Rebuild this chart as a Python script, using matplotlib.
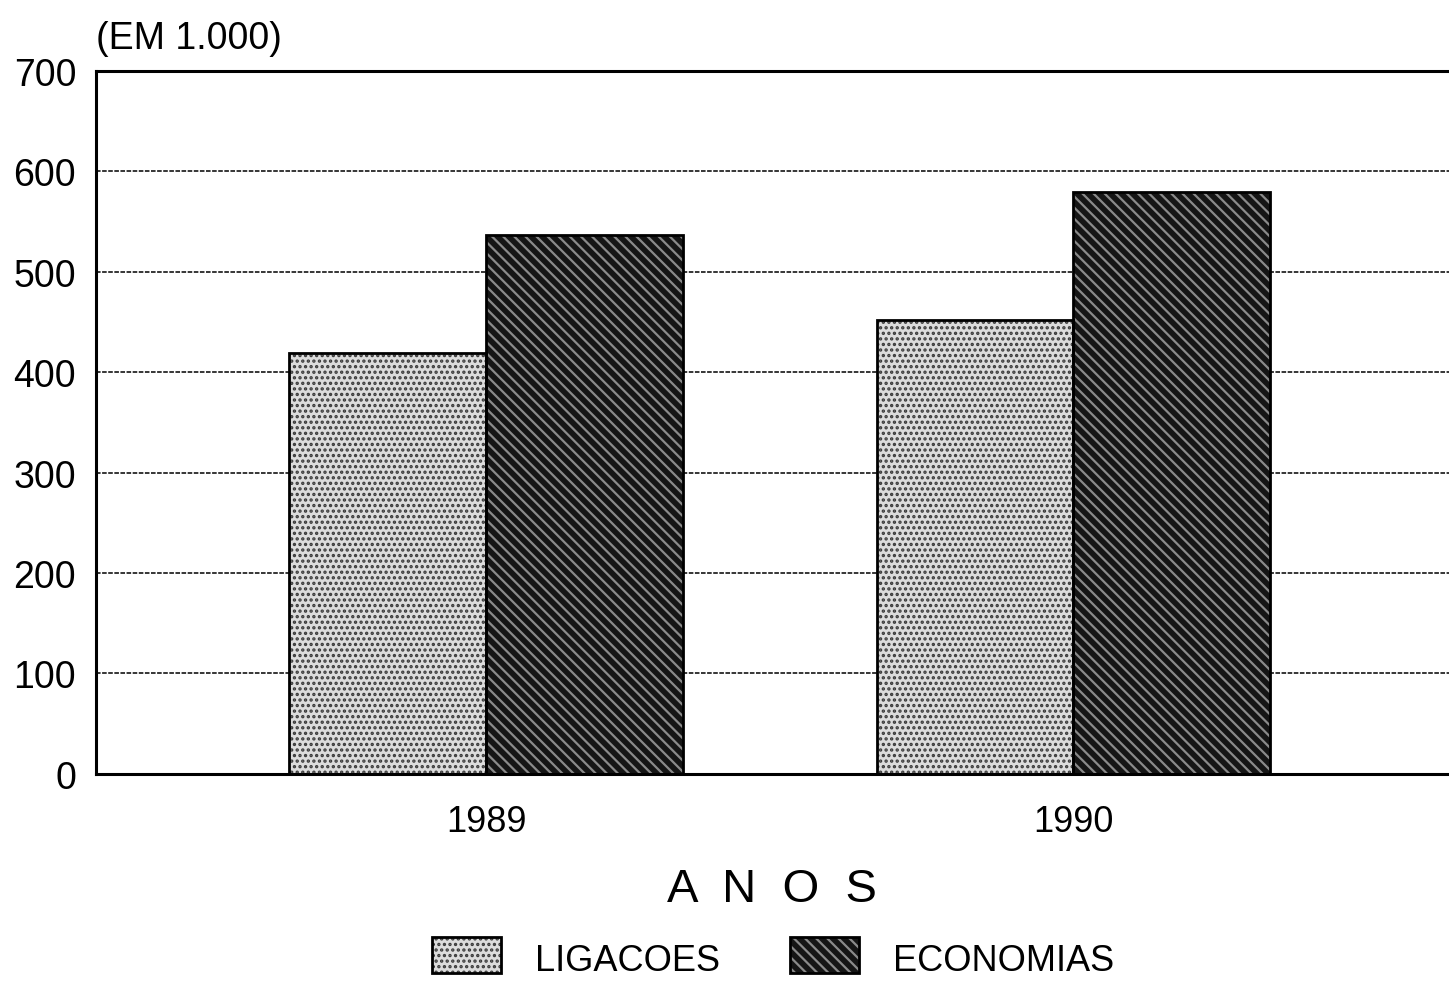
import numpy as np
import matplotlib.pyplot as plt

plt.rcParams['font.family'] = ['Liberation Sans', 'DejaVu Sans']
plt.rcParams['hatch.linewidth'] = 1.6

years = ['1989', '1990']
ligacoes = [419, 452]
economias = [537, 580]
series_names = ['LIGACOES', 'ECONOMIAS']

fig = plt.figure(figsize=(14.49, 9.87), dpi=100)
ax = fig.add_axes([0.066, 0.215, 0.934, 0.712])

x = np.arange(len(years))
w = 0.335

light_fc, light_hc = '#dcdcdc', '#3a3a3a'
dark_fc, dark_hc = '#151515', '#8a8a8a'

# fill with pattern first, then a plain outline on top
ax.bar(x - w / 2, ligacoes, w, color=light_fc, edgecolor=light_hc, hatch='...', linewidth=0, zorder=2)
ax.bar(x - w / 2, ligacoes, w, fill=False, edgecolor='black', linewidth=2, zorder=3)
ax.bar(x + w / 2, economias, w, color=dark_fc, edgecolor=dark_hc, hatch='\\\\\\', linewidth=0, zorder=2)
ax.bar(x + w / 2, economias, w, fill=False, edgecolor='black', linewidth=2, zorder=3)

ax.set_xlim(-0.665, 1.64)
ax.set_ylim(0, 700)
ax.set_yticks(range(0, 701, 100))
ax.tick_params(axis='y', length=0, pad=14, labelsize=27)
ax.set_xticks(x)
ax.set_xticklabels(years)
ax.tick_params(axis='x', length=0, pad=22, labelsize=26)

ax.yaxis.grid(True, linestyle=(0, (3, 1)), color='black', linewidth=1.1, zorder=1)
ax.set_axisbelow(True)

for s in ['left', 'top', 'bottom']:
    ax.spines[s].set_linewidth(2.2)
ax.spines['right'].set_visible(False)

ax.text(0.0, 1.022, '(EM 1.000)', transform=ax.transAxes, fontsize=27, ha='left', va='bottom')
ax.set_xlabel('A  N  O  S', fontsize=34, labelpad=20)

# legend drawn by hand below the axes
legend_items = [
    (0.298, 0.552, light_fc, light_hc, '...'),
    (0.545, 0.802, dark_fc, dark_hc, '\\\\\\'),
]
for (px, tx, fc, hc, h), name in zip(legend_items, series_names):
    fig.patches.append(plt.Rectangle((px, 0.013), 0.048, 0.037, transform=fig.transFigure,
                                     facecolor=fc, edgecolor=hc, hatch=h, linewidth=0))
    fig.patches.append(plt.Rectangle((px, 0.013), 0.048, 0.037, transform=fig.transFigure,
                                     fill=False, edgecolor='black', linewidth=2))
    fig.text(px + 0.071, 0.026, name, fontsize=26, va='center', ha='left')

fig.savefig('out.png', dpi=100)
